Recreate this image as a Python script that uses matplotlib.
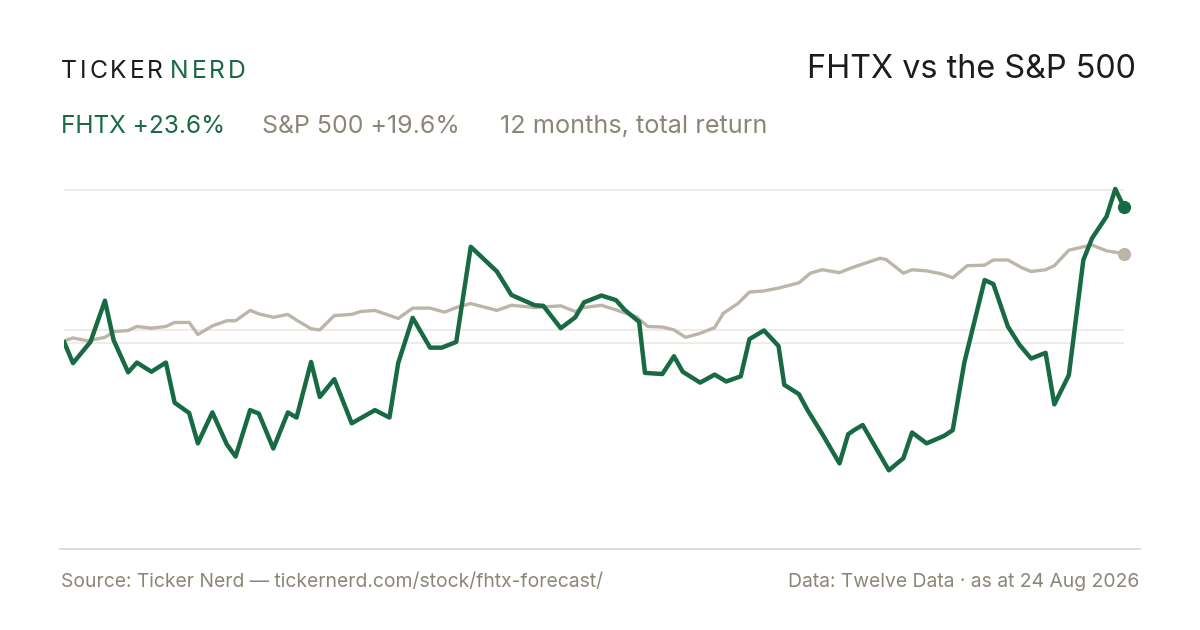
import numpy as np
import pandas as pd
import matplotlib
matplotlib.use("Agg")
import matplotlib.pyplot as plt
from matplotlib.lines import Line2D

plt.rcParams['font.family'] = ['Inter', 'DejaVu Sans']

# day offsets from the start date and total return (%)
start = pd.Timestamp("2025-08-24")
fhtx_days = [0, 3, 9, 14, 17, 22, 25, 30, 35, 38, 43, 46, 51, 56, 59, 64, 67, 72, 77, 80,
             85, 88, 93, 99, 107, 112, 115, 120, 126, 130, 135, 140, 149, 154, 162, 165,
             171, 176, 179, 185, 190, 193, 198, 200, 206, 210, 213, 219, 224, 228, 233,
             236, 241, 246, 248, 253, 256, 261, 267, 270, 272, 275, 280, 284, 289, 292,
             297, 303, 306, 310, 317, 320, 325, 329, 333, 338, 341, 346, 351, 354, 359,
             362, 365]
fhtx_ret = [0.0, -3.6, 0.1, 7.3, 0.4, -5.2, -3.5, -5.1, -3.5, -10.5, -12.3, -17.6, -12.2,
            -17.8, -19.9, -11.8, -12.4, -18.5, -12.2, -13.1, -3.4, -9.5, -6.4, -14.1,
            -11.8, -13.1, -3.6, 4.3, -0.9, -0.9, 0.1, 16.7, 12.4, 8.3, 6.5, 6.4, 2.5,
            4.4, 7.0, 8.2, 7.4, 5.7, 3.6, -5.3, -5.5, -2.4, -5.1, -7.0, -5.6, -6.8, -5.9,
            0.6, 2.1, -0.6, -7.4, -9.0, -11.8, -15.9, -21.1, -16.0, -15.3, -14.4, -18.8,
            -22.3, -20.2, -15.7, -17.6, -16.3, -15.3, -3.5, 10.9, 10.2, 2.8, -0.4, -2.8,
            -1.8, -10.8, -5.7, 14.4, 18.2, 22.0, 26.8, 23.6]

spx_days = [0, 3, 8, 14, 17, 22, 25, 30, 35, 38, 43, 46, 51, 56, 59, 64, 67, 72, 77, 80,
            85, 88, 93, 99, 102, 107, 115, 120, 126, 131, 135, 140, 149, 154, 162, 171,
            176, 179, 185, 190, 197, 201, 206, 210, 214, 219, 224, 227, 232, 236, 241,
            246, 253, 257, 261, 267, 271, 275, 281, 283, 289, 292, 297, 302, 306, 311,
            317, 320, 325, 330, 333, 338, 341, 346, 351, 354, 359, 365]
spx_ret = [0.3, 0.8, 0.3, 0.9, 1.9, 2.1, 2.8, 2.5, 2.8, 3.5, 3.5, 1.4, 2.9, 3.8, 3.8,
           5.6, 5.0, 4.4, 4.9, 3.9, 2.4, 2.2, 4.7, 4.9, 5.4, 5.6, 4.2, 6.0, 6.0, 5.3, 6.1,
           6.8, 5.6, 6.5, 6.1, 6.4, 5.4, 6.1, 6.5, 5.7, 4.5, 2.8, 2.7, 2.2, 0.9, 1.6, 2.6,
           5.1, 6.8, 8.8, 9.0, 9.5, 10.4, 12.1, 12.7, 12.2, 13.0, 13.7, 14.7, 14.5, 12.1,
           12.7, 12.5, 12.0, 11.3, 13.4, 13.5, 14.4, 14.4, 13.0, 12.4, 12.7, 13.4, 16.1,
           16.7, 17.0, 16.0, 15.5]

grid_vals = [26.7, 2.2, 0.0]

brand_a = "TICKER"
brand_b = "NERD"
title = "FHTX vs the S&P 500"
sub_fhtx = "FHTX +23.6%"
sub_spx = "S&P 500 +19.6%"
sub_period = "12 months, total return"
foot_left = "Source: Ticker Nerd \u2014 tickernerd.com/stock/fhtx-forecast/"
foot_right = "Data: Twelve Data \u00b7 as at 24 Aug 2026"

GREEN = "#186a43"
GREY_LINE = "#bcb5a9"
GREY_TEXT = "#8b8677"
DARK = "#1c1c1c"

W, H = 1200, 630
fig = plt.figure(figsize=(W / 100, H / 100), dpi=100)
fig.patch.set_facecolor("white")


def fy(px):
    return (H - px) / H


def fx(px):
    return px / W


ax = fig.add_axes([fx(64.3), fy(548), fx(1124) - fx(64.3), fy(180) - fy(548)])
ax.set_facecolor("none")

x_fhtx = start + pd.to_timedelta(fhtx_days, unit="D")
x_spx = start + pd.to_timedelta(spx_days, unit="D")

for g in grid_vals:
    ax.axhline(g, color="#eeebe5", lw=1.3, zorder=0)

ax.plot(x_spx, spx_ret, color=GREY_LINE, lw=2.4, solid_joinstyle="round", zorder=2)
ax.plot(x_fhtx, fhtx_ret, color=GREEN, lw=3.2, solid_joinstyle="round", zorder=3)
ax.plot(x_spx[-1:], spx_ret[-1:], "o", color=GREY_LINE, ms=8.5, clip_on=False, zorder=4)
ax.plot(x_fhtx[-1:], fhtx_ret[-1:], "o", color=GREEN, ms=8.5, clip_on=False, zorder=5)

ax.set_xlim(x_fhtx[0], x_fhtx[-1])
ax.set_ylim(-35.86, 28.36)
ax.axis("off")

# bottom rule
fig.add_artist(Line2D([fx(60), fx(1140)], [fy(548.5), fy(548.5)],
                      color="#dedad0", lw=1.3, transform=fig.transFigure))


def spaced_text(x, y, s, spacing, **kw):
    # draw characters one by one with extra tracking, return right edge in px
    r = fig.canvas.get_renderer()
    for ch in s:
        t = fig.text(fx(x), fy(y), ch, va="baseline", ha="left", **kw)
        bb = t.get_window_extent(renderer=r)
        x += bb.width + spacing
    return x


fig.canvas.draw()
spaced_text(61, 78, brand_a, 2.9, fontsize=17.8, color=DARK)
spaced_text(170, 78, brand_b, 2.9, fontsize=17.8, color=GREEN)

fig.text(fx(1136), fy(77.7), title, ha="right", va="baseline", fontsize=23.3, color=DARK)

fig.text(fx(61), fy(132.7), sub_fhtx, ha="left", va="baseline", fontsize=17.6, color=GREEN)
fig.text(fx(262), fy(132.7), sub_spx, ha="left", va="baseline", fontsize=17.9, color=GREY_TEXT)
fig.text(fx(500), fy(132.7), sub_period, ha="left", va="baseline", fontsize=18.2, color=GREY_TEXT)

fig.text(fx(61), fy(587), foot_left, ha="left", va="baseline", fontsize=13.9, color=GREY_TEXT)
fig.text(fx(1139), fy(587), foot_right, ha="right", va="baseline", fontsize=13.9, color=GREY_TEXT)

fig.savefig("out.png", dpi=100, facecolor="white")
